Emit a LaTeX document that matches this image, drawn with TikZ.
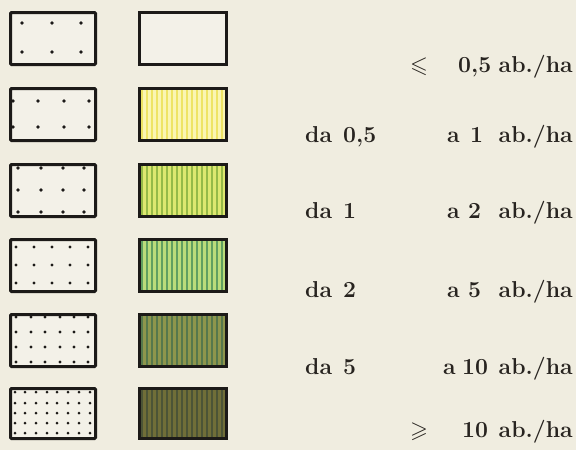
\documentclass[tikz,border=0pt]{standalone}
\usepackage{amssymb}
\definecolor{paper}{RGB}{240,237,224}
\definecolor{inner}{RGB}{243,241,232}
\definecolor{ink}{RGB}{28,26,24}
\definecolor{txt}{RGB}{40,36,32}
\definecolor{ya}{RGB}{250,245,178}\definecolor{yb}{RGB}{238,228,100}
\definecolor{ga}{RGB}{222,232,112}\definecolor{gb}{RGB}{150,186,72}
\definecolor{ha}{RGB}{186,220,122}\definecolor{hb}{RGB}{96,160,96}
\definecolor{oa}{RGB}{142,150,76}\definecolor{ob}{RGB}{86,120,76}
\definecolor{da}{RGB}{112,110,56}\definecolor{db}{RGB}{76,84,54}
\tikzset{
  lbox/.style={draw=ink, line width=3pt, fill=inner, minimum width=85pt, minimum height=52pt, inner sep=0pt, rounded corners=1pt},
  rbox/.style={draw=ink, line width=3pt, fill=inner, minimum width=87pt, minimum height=52pt, inner sep=0pt},
  stripes/.style 2 args={fill=#1, path picture={\foreach \k in {0,...,18} \fill[#2] ([xshift=\k*5pt+1.2pt]path picture bounding box.south west) rectangle ++(2.2pt,60pt);}},
  dotc/.style={fill=ink},
  lab/.style={font=\bfseries\fontsize{23}{27}\selectfont, text=txt, inner sep=0pt, anchor=base west},
  labe/.style={lab, anchor=base east}
}
\begin{document}
\begin{tikzpicture}[x=1pt,y=-1pt]
\fill[paper] (0,0) rectangle (576,450);
\useasboundingbox (0,0) rectangle (576,450);
% left boxes
\node[lbox] (L1) at (53,38.5) {};
\node[lbox] (L2) at (53,114.5) {};
\node[lbox] (L3) at (53,190.5) {};
\node[lbox] (L4) at (53,265.5) {};
\node[lbox] (L5) at (53,340.5) {};
\node[lbox, minimum height=50pt] (L6) at (53,413.5) {};
% right boxes
\node[rbox] (R1) at (183,38.5) {};
\node[rbox, stripes={ya}{yb}] (R2) at (183,114.5) {};
\node[rbox, stripes={ga}{gb}] (R3) at (183,190.5) {};
\node[rbox, stripes={ha}{hb}] (R4) at (183,265.5) {};
\node[rbox, stripes={oa}{ob}] (R5) at (183,340.5) {};
\node[rbox, stripes={da}{db}, minimum height=50pt] (R6) at (183,413.5) {};
% dots
\foreach \x in {22,52,81} \foreach \y in {23,52} \fill[dotc] (\x,\y) circle (1.9pt);
\foreach \x in {13,38,64,89} \foreach \y in {101,127} \fill[dotc] (\x,\y) circle (1.9pt);
\foreach \x in {18,41,63,84} \foreach \y in {168,190,212} \fill[dotc] (\x,\y) circle (1.8pt);
\foreach \x in {16,34,52,70,88} \foreach \y in {247,265,283} \fill[dotc] (\x,\y) circle (1.7pt);
\foreach \x in {16,31,45,60,74,88} \foreach \y in {317,332,347,362} \fill[dotc] (\x,\y) circle (1.6pt);
\foreach \x in {15,25,36,47,57,68,79,90} \foreach \y in {392,403,413,423,433} \fill[dotc] (\x,\y) circle (1.5pt);
% row 1 text
\node[lab] (s1) at (410,72) {$\leqslant$};
\node[lab] (n1) at (458,72) {0,5};
\node[labe] (u1) at (573,72) {ab./ha};
% row 2
\node[lab] (d2) at (305,142) {da};
\node[lab] (f2) at (343,142) {0,5};
\node[lab] (a2) at (447,142) {a};
\node[lab] (n2) at (470,142) {1};
\node[labe] (u2) at (573,142) {ab./ha};
% row 3
\node[lab] (d3) at (305,218) {da};
\node[lab] (f3) at (343,218) {1};
\node[lab] (a3) at (447,218) {a};
\node[lab] (n3) at (468,218) {2};
\node[labe] (u3) at (573,218) {ab./ha};
% row 4
\node[lab] (d4) at (305,297) {da};
\node[lab] (f4) at (343,297) {2};
\node[lab] (a4) at (447,297) {a};
\node[lab] (n4) at (468,297) {5};
\node[labe] (u4) at (573,297) {ab./ha};
% row 5
\node[lab] (d5) at (305,374) {da};
\node[lab] (f5) at (343,374) {5};
\node[lab] (a5) at (443,374) {a};
\node[lab] (n5) at (462,374) {10};
\node[labe] (u5) at (573,374) {ab./ha};
% row 6
\node[lab] (s6) at (410,437) {$\geqslant$};
\node[lab] (n6) at (462,437) {10};
\node[labe] (u6) at (573,437) {ab./ha};
\end{tikzpicture}
\end{document}
